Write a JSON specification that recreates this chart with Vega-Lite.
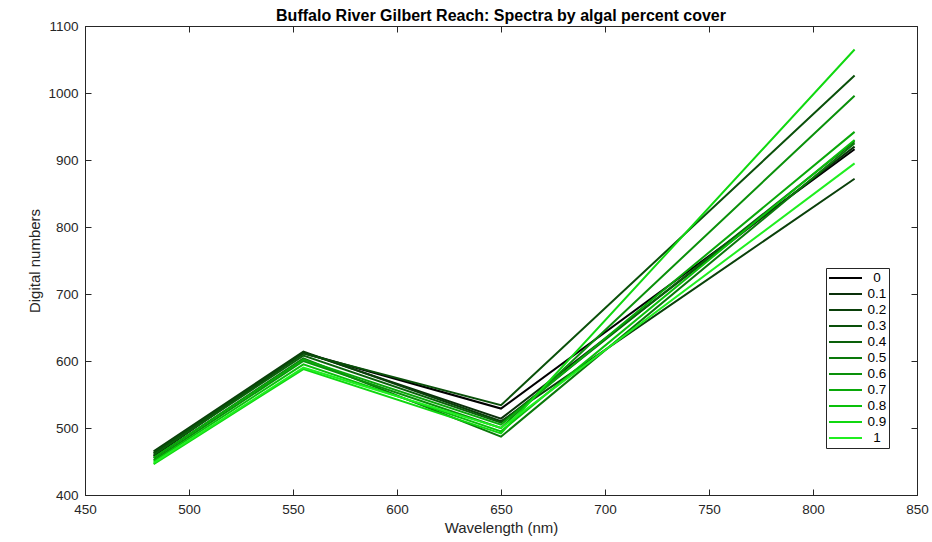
{
  "$schema": "https://vega.github.io/schema/vega-lite/v6.json",
  "autosize": "none",
  "width": 832,
  "height": 469,
  "padding": {"left": 85, "top": 26, "right": 15, "bottom": 47},
  "background": "white",
  "title": {
    "text": "Buffalo River Gilbert Reach: Spectra by algal percent cover",
    "font": "Liberation Sans",
    "fontSize": 16,
    "fontWeight": "bold",
    "color": "black",
    "anchor": "middle",
    "offset": -5
  },
  "config": {
    "view": {"stroke": "#262626", "strokeWidth": 1},
    "axis": {
      "grid": false,
      "domainColor": "#262626",
      "tickColor": "#262626",
      "tickSize": -6,
      "labelFlush": false,
      "labelFont": "Liberation Sans",
      "labelFontSize": 13.5,
      "labelColor": "#262626",
      "titleFont": "Liberation Sans",
      "titleFontSize": 15,
      "titleFontWeight": "normal",
      "titleColor": "#262626",
      "format": "d"
    }
  },
  "data": {
    "values": [
      {"cover": "0", "wavelength": 483, "dn": 458},
      {"cover": "0", "wavelength": 555, "dn": 612},
      {"cover": "0", "wavelength": 650, "dn": 529},
      {"cover": "0", "wavelength": 820, "dn": 916},
      {"cover": "0.1", "wavelength": 483, "dn": 462},
      {"cover": "0.1", "wavelength": 555, "dn": 613},
      {"cover": "0.1", "wavelength": 650, "dn": 514},
      {"cover": "0.1", "wavelength": 820, "dn": 920},
      {"cover": "0.2", "wavelength": 483, "dn": 465},
      {"cover": "0.2", "wavelength": 555, "dn": 614},
      {"cover": "0.2", "wavelength": 650, "dn": 510},
      {"cover": "0.2", "wavelength": 820, "dn": 872},
      {"cover": "0.3", "wavelength": 483, "dn": 463},
      {"cover": "0.3", "wavelength": 555, "dn": 611},
      {"cover": "0.3", "wavelength": 650, "dn": 534},
      {"cover": "0.3", "wavelength": 820, "dn": 1026},
      {"cover": "0.4", "wavelength": 483, "dn": 460},
      {"cover": "0.4", "wavelength": 555, "dn": 608},
      {"cover": "0.4", "wavelength": 650, "dn": 508},
      {"cover": "0.4", "wavelength": 820, "dn": 928},
      {"cover": "0.5", "wavelength": 483, "dn": 455},
      {"cover": "0.5", "wavelength": 555, "dn": 604},
      {"cover": "0.5", "wavelength": 650, "dn": 487},
      {"cover": "0.5", "wavelength": 820, "dn": 925},
      {"cover": "0.6", "wavelength": 483, "dn": 452},
      {"cover": "0.6", "wavelength": 555, "dn": 600},
      {"cover": "0.6", "wavelength": 650, "dn": 500},
      {"cover": "0.6", "wavelength": 820, "dn": 996},
      {"cover": "0.7", "wavelength": 483, "dn": 456},
      {"cover": "0.7", "wavelength": 555, "dn": 602},
      {"cover": "0.7", "wavelength": 650, "dn": 505},
      {"cover": "0.7", "wavelength": 820, "dn": 942},
      {"cover": "0.8", "wavelength": 483, "dn": 450},
      {"cover": "0.8", "wavelength": 555, "dn": 595},
      {"cover": "0.8", "wavelength": 650, "dn": 495},
      {"cover": "0.8", "wavelength": 820, "dn": 930},
      {"cover": "0.9", "wavelength": 483, "dn": 446},
      {"cover": "0.9", "wavelength": 555, "dn": 588},
      {"cover": "0.9", "wavelength": 650, "dn": 492},
      {"cover": "0.9", "wavelength": 820, "dn": 1065},
      {"cover": "1", "wavelength": 483, "dn": 448},
      {"cover": "1", "wavelength": 555, "dn": 590},
      {"cover": "1", "wavelength": 650, "dn": 500},
      {"cover": "1", "wavelength": 820, "dn": 895}
    ]
  },
  "layer": [
    {
      "mark": {"type": "line", "strokeWidth": 2, "clip": true},
      "encoding": {
        "x": {
          "field": "wavelength", "type": "quantitative",
          "scale": {"domain": [450, 850], "nice": false, "zero": false},
          "axis": {"title": "Wavelength (nm)", "values": [450, 500, 550, 600, 650, 700, 750, 800, 850], "labelPadding": 13, "titlePadding": 5}
        },
        "y": {
          "field": "dn", "type": "quantitative",
          "scale": {"domain": [400, 1100], "nice": false, "zero": false},
          "axis": {"title": "Digital numbers", "values": [400, 500, 600, 700, 800, 900, 1000, 1100], "labelPadding": 13, "titlePadding": 5}
        },
        "color": {
          "field": "cover", "type": "nominal",
          "scale": {
            "domain": ["0", "0.1", "0.2", "0.3", "0.4", "0.5", "0.6", "0.7", "0.8", "0.9", "1"],
            "range": ["#000000", "#0a300a", "#0a400a", "#0a500a", "#0a600a", "#0a780a", "#0a900a", "#0aa80a", "#0ac00a", "#10d810", "#20ee20"]
          },
          "legend": {
            "title": null,
            "orient": "none",
            "legendX": 741,
            "legendY": 242,
            "symbolType": "stroke",
            "symbolSize": 1089,
            "symbolStrokeWidth": 2,
            "labelFont": "Liberation Sans",
            "labelFontSize": 13.5,
            "labelColor": "black",
            "labelAlign": "center",
            "labelOffset": 14,
            "clipHeight": 16,
            "rowPadding": 0,
            "padding": 2,
            "strokeColor": "#262626",
            "fillColor": "white"
          }
        },
        "detail": {"field": "cover"}
      }
    },
    {
      "mark": {"type": "line", "opacity": 0},
      "encoding": {
        "x": {
          "field": "wavelength", "type": "quantitative",
          "axis": {"orient": "top", "labels": false, "title": null, "values": [450, 500, 550, 600, 650, 700, 750, 800, 850], "domain": false}
        },
        "y": {
          "field": "dn", "type": "quantitative",
          "axis": {"orient": "right", "labels": false, "title": null, "values": [400, 500, 600, 700, 800, 900, 1000, 1100], "domain": false}
        },
        "detail": {"field": "cover"}
      }
    }
  ],
  "resolve": {"axis": {"x": "independent", "y": "independent"}}
}
